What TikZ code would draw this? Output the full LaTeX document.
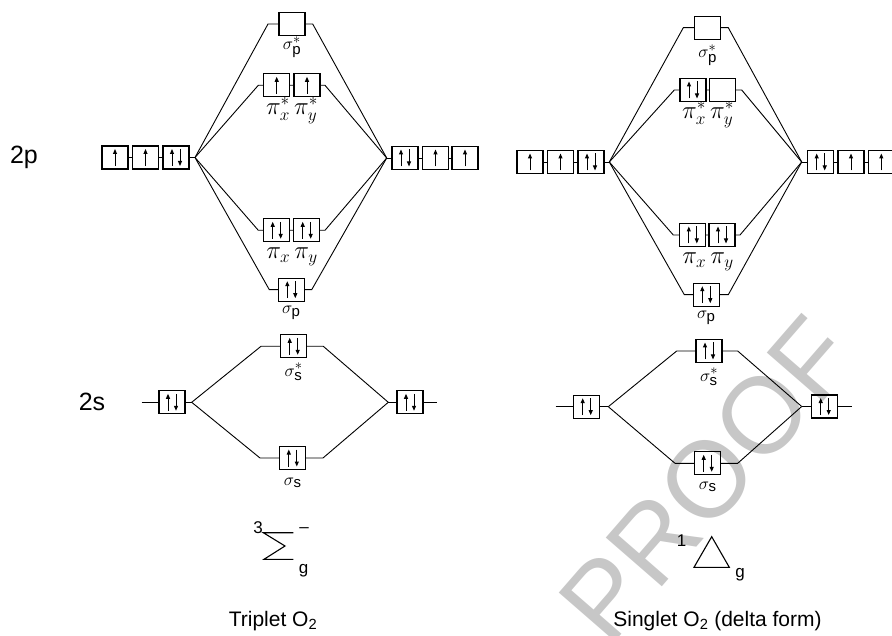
\documentclass[tikz,border=0pt]{standalone}
\usepackage{amsmath}
\usepackage{fontspec}
\setmainfont{Liberation Sans}
\setsansfont{Liberation Sans}
\usetikzlibrary{arrows.meta}
\DeclareMathSizes{19}{19}{15}{11}
\DeclareMathSizes{23}{23}{18}{14}
\begin{document}
\begin{tikzpicture}[x=1pt,y=-1pt,
  orb/.style={draw, line width=1.2pt, minimum width=26pt, minimum height=23pt, inner sep=0pt, outer sep=0pt},
  el/.style={line width=1pt, -{Triangle[length=5pt,width=4pt]}},
  upbox/.style={orb, path picture={\draw[el] ([yshift=3pt]path picture bounding box.south) -- ([yshift=-3pt]path picture bounding box.north);}},
  pairbox/.style={orb, path picture={
     \draw[el] ([xshift=-4pt,yshift=3pt]path picture bounding box.south) -- ([xshift=-4pt,yshift=-3pt]path picture bounding box.north);
     \draw[el] ([xshift=4pt,yshift=-3pt]path picture bounding box.north) -- ([xshift=4pt,yshift=3pt]path picture bounding box.south);}},
  con/.style={line width=0.9pt},
  lab/.style={font=\fontsize{19}{21}\selectfont, inner sep=0pt},
  pilab/.style={font=\fontsize{23}{25}\selectfont, inner sep=0pt},
  bigtxt/.style={font=\fontsize{25}{28}\selectfont, inner sep=0pt},
  captxt/.style={font=\fontsize{21}{24}\selectfont, inner sep=0pt},
  termtxt/.style={font=\fontsize{17}{19}\selectfont, inner sep=0pt}]
\useasboundingbox (0,0) rectangle (892,636);
% watermark
\node[text=black!22, font=\fontsize{108}{108}\selectfont, rotate=49, inner sep=0pt] (wm) at (707,479) {PROOF};

% ===== Left panel: triplet =====
\node[bigtxt] (l2p) at (24,157) {2p};
\node[bigtxt] (l2s) at (92,402) {2s};
% 2p atomic
\node[upbox] (a1) at (115,157.5) {};
\node[upbox] (a2) at (145.5,157.5) {};
\node[pairbox] (a3) at (176,157.5) {};
\coordinate (aL) at (195,157.5);
\draw[con] (a1) -- (a2) -- (a3) -- (aL);
\node[pairbox] (b1) at (405,158) {};
\node[upbox] (b2) at (435.5,158) {};
\node[upbox] (b3) at (465,158) {};
\coordinate (bR) at (386.7,158);
\draw[con] (bR) -- (b1) -- (b2) -- (b3);
% sigma p*
\node[orb] (sps) at (292,24) {};
\coordinate (spsL) at (268,24);
\coordinate (spsR) at (312.7,24);
\draw[con] (aL) -- (spsL) -- (sps) -- (spsR) -- (bR);
\node[lab] (spsT) at (292,47) {$\sigma^{*}_{\text{p}}$};
% pi*
\node[upbox] (pxs) at (276.7,85.3) {};
\node[upbox] (pys) at (307,85.3) {};
\coordinate (pxsL) at (258.3,85.3);
\coordinate (pysR) at (325,85.3);
\draw[con] (aL) -- (pxsL) -- (pxs) -- (pys) -- (pysR) -- (bR);
\node[pilab] (pisT) at (292,111) {$\pi^{*}_{x}\,\pi^{*}_{y}$};
% pi
\node[pairbox] (px) at (276.7,230.3) {};
\node[pairbox] (py) at (306.7,230.3) {};
\coordinate (pxL) at (258.3,230.3);
\coordinate (pyR) at (325,230.3);
\draw[con] (aL) -- (pxL) -- (px) -- (py) -- (pyR) -- (bR);
\node[pilab] (piT) at (292,257) {$\pi_{x}\,\pi_{y}$};
% sigma p
\node[pairbox] (sp) at (291.3,289.7) {};
\coordinate (spL) at (269.3,289.7);
\coordinate (spR) at (311.7,289.7);
\draw[con] (aL) -- (spL) -- (sp) -- (spR) -- (bR);
\node[lab] (spT) at (291.3,313) {$\sigma_{\text{p}}$};
% 2s
\coordinate (c0) at (141.7,402.3);
\node[pairbox] (c1) at (172,402.3) {};
\coordinate (cL) at (191.7,402.3);
\draw[con] (c0) -- (c1) -- (cL);
\coordinate (cR) at (388.3,402.3);
\node[pairbox] (d1) at (410,402.3) {};
\coordinate (d0) at (436.7,402.3);
\draw[con] (cR) -- (d1) -- (d0);
\node[pairbox] (sss) at (293.7,346.3) {};
\coordinate (sssL) at (261,346.3);
\coordinate (sssR) at (323.3,346.3);
\draw[con] (cL) -- (sssL) -- (sss) -- (sssR) -- (cR);
\node[lab] (sssT) at (293.7,372) {$\sigma^{*}_{\text{s}}$};
\node[pairbox] (ss) at (292.8,458) {};
\coordinate (ssL) at (260,458);
\coordinate (ssR) at (323,458);
\draw[con] (cL) -- (ssL) -- (ss) -- (ssR) -- (cR);
\node[lab] (ssT) at (292.8,483) {$\sigma_{\text{s}}$};
% term symbol 3Sigma g -
\node[termtxt] (t3) at (258,528) {3};
\draw[line width=1.1pt] (293.3,532.7) -- (263.3,532.7) -- (285,546) -- (264,559.3) -- (293.3,559.3);
\node[termtxt] (tm) at (304,530) {–};
\node[termtxt] (tg) at (303.5,571) {g};
\node[captxt] (trip) at (273,621) {Triplet O\textsubscript{2}};

% ===== Right panel: singlet =====
\node[upbox] (e1) at (530,162) {};
\node[upbox] (e2) at (560.5,162) {};
\node[pairbox] (e3) at (591,162) {};
\coordinate (eL) at (609.3,162);
\draw[con] (e1) -- (e2) -- (e3) -- (eL);
\coordinate (eR) at (801.7,162);
\node[pairbox] (f1) at (820.7,162) {};
\node[upbox] (f2) at (851,162) {};
\node[upbox] (f3) at (881.3,162) {};
\draw[con] (eR) -- (f1) -- (f2) -- (f3);
% sigma p*
\node[orb] (tsps) at (707.7,27.7) {};
\coordinate (tspsL) at (683.3,27.7);
\coordinate (tspsR) at (728.3,27.7);
\draw[con] (eL) -- (tspsL) -- (tsps) -- (tspsR) -- (eR);
\node[lab] (tspsT) at (707.7,55) {$\sigma^{*}_{\text{p}}$};
% pi*
\node[pairbox] (tpxs) at (693,90) {};
\node[orb] (tpys) at (722.5,90) {};
\coordinate (tpxsL) at (674.3,90);
\coordinate (tpysR) at (741.7,90);
\draw[con] (eL) -- (tpxsL) -- (tpxs) -- (tpys) -- (tpysR) -- (eR);
\node[pilab] (tpisT) at (708,115) {$\pi^{*}_{x}\,\pi^{*}_{y}$};
% pi
\node[pairbox] (tpx) at (692.8,235) {};
\node[pairbox] (tpy) at (722,235) {};
\coordinate (tpxL) at (673.3,235);
\coordinate (tpyR) at (740,235);
\draw[con] (eL) -- (tpxL) -- (tpx) -- (tpy) -- (tpyR) -- (eR);
\node[pilab] (tpiT) at (708,262) {$\pi_{x}\,\pi_{y}$};
% sigma p
\node[pairbox] (tsp) at (706.3,294.7) {};
\coordinate (tspL) at (684.3,294.7);
\coordinate (tspR) at (728.3,294.7);
\draw[con] (eL) -- (tspL) -- (tsp) -- (tspR) -- (eR);
\node[lab] (tspT) at (706.3,318) {$\sigma_{\text{p}}$};
% 2s
\coordinate (g0) at (555.7,406.7);
\node[pairbox] (g1) at (586.7,406.7) {};
\coordinate (gL) at (608.3,406.7);
\draw[con] (g0) -- (g1) -- (gL);
\coordinate (gR) at (801.7,406.5);
\node[pairbox] (h1) at (824.7,406.5) {};
\coordinate (h0) at (851.7,406.5);
\draw[con] (gR) -- (h1) -- (h0);
\node[pairbox] (tsss) at (709,351) {};
\coordinate (tsssL) at (676.7,351);
\coordinate (tsssR) at (737.7,351);
\draw[con] (gL) -- (tsssL) -- (tsss) -- (tsssR) -- (gR);
\node[lab] (tsssT) at (709,377) {$\sigma^{*}_{\text{s}}$};
\node[pairbox] (tss) at (707.7,463.3) {};
\coordinate (tssL) at (675,463.3);
\coordinate (tssR) at (737.7,463.3);
\draw[con] (gL) -- (tssL) -- (tss) -- (tssR) -- (gR);
\node[lab] (tssT) at (707.7,487) {$\sigma_{\text{s}}$};
% term symbol 1Delta g
\node[termtxt] (u1) at (681.5,541) {1};
\draw[line width=1.1pt] (694,567.3) -- (729.3,567.3) -- (711.7,536.7) -- cycle;
\node[termtxt] (ug) at (740,575) {g};
\node[captxt] (sing) at (717.5,621) {Singlet O\textsubscript{2} (delta form)};
\end{tikzpicture}
\end{document}
